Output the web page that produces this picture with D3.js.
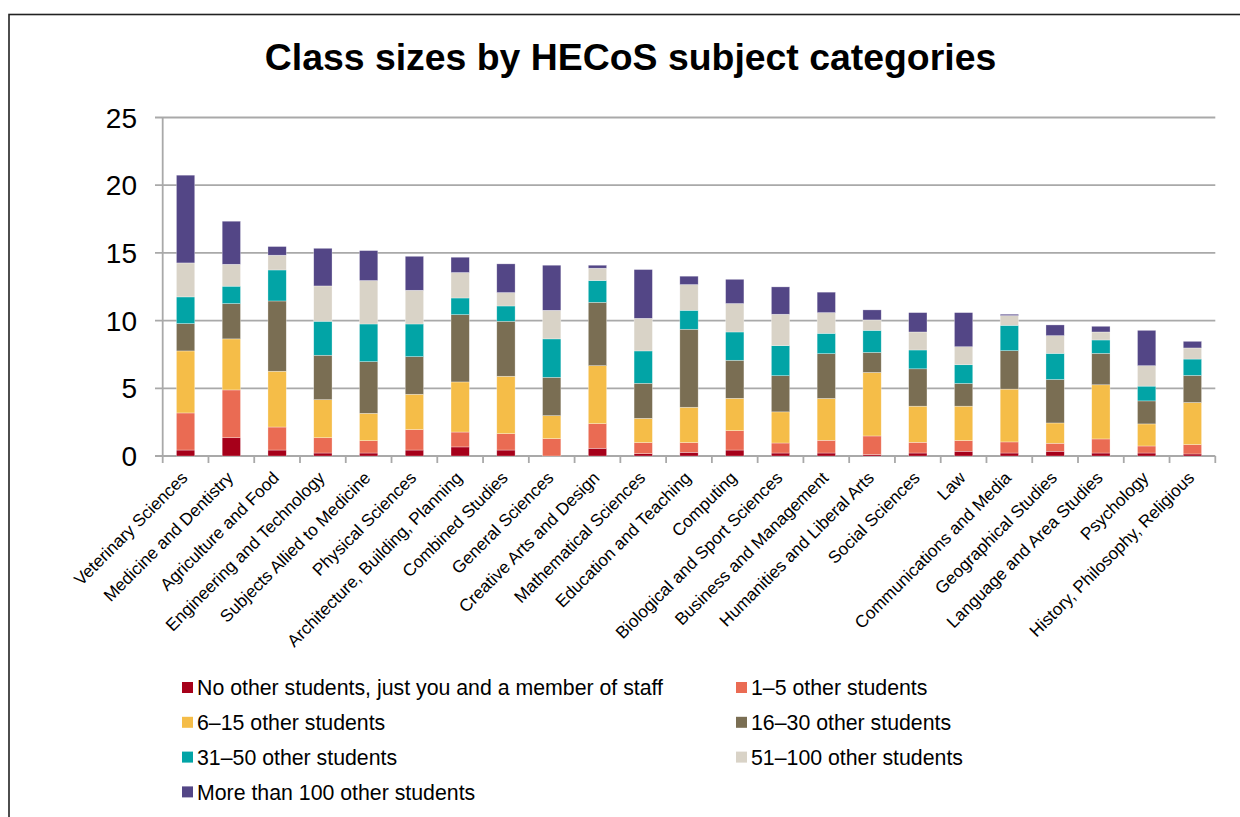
<!DOCTYPE html>
<html>
<head>
<meta charset="utf-8">
<script src="https://cdn.jsdelivr.net/npm/d3@7"></script>
<style>
  body { margin: 0; background: #fff; }
  svg { display: block; font-family: "Liberation Sans", Arial, sans-serif; }
</style>
</head>
<body>
<svg id="chart" width="1240" height="817"></svg>
<script>
// subject categories, in chart order
var categories = [
  "Veterinary Sciences", "Medicine and Dentistry", "Agriculture and Food",
  "Engineering and Technology", "Subjects Allied to Medicine", "Physical Sciences",
  "Architecture, Building, Planning", "Combined Studies", "General Sciences",
  "Creative Arts and Design", "Mathematical Sciences", "Education and Teaching",
  "Computing", "Biological and Sport Sciences", "Business and Management",
  "Humanities and Liberal Arts", "Social Sciences", "Law",
  "Communications and Media", "Geographical Studies", "Language and Area Studies",
  "Psychology", "History, Philosophy, Religious"
];

var seriesNames = [
  "No other students, just you and a member of staff",
  "1–5 other students",
  "6–15 other students",
  "16–30 other students",
  "31–50 other students",
  "51–100 other students",
  "More than 100 other students"
];
var seriesColors = ["#a6001a", "#ea6b53", "#f5bd48", "#7a6e53", "#02a4a6", "#d9d3c7", "#534686"];

// values per series (%), one per category
var noOthers  = [0.44, 1.35, 0.44, 0.22, 0.22, 0.44, 0.67, 0.44, 0.00, 0.57, 0.17, 0.27, 0.44, 0.22, 0.22, 0.10, 0.22, 0.35, 0.22, 0.35, 0.22, 0.22, 0.15];
var oneToFive = [2.74, 3.53, 1.70, 1.13, 0.91, 1.51, 1.10, 1.21, 1.28, 1.82, 0.82, 0.72, 1.43, 0.74, 0.94, 1.38, 0.79, 0.79, 0.82, 0.59, 1.04, 0.52, 0.69];
var sixTo15   = [4.58, 3.77, 4.12, 2.81, 2.02, 2.61, 3.70, 4.24, 1.70, 4.28, 1.79, 2.61, 2.39, 2.30, 3.09, 4.69, 2.67, 2.54, 3.90, 1.50, 4.00, 1.63, 3.11];
var sixteenTo30 = [2.02, 2.61, 5.19, 3.28, 3.82, 2.78, 4.97, 4.06, 2.83, 4.68, 2.59, 5.76, 2.81, 2.67, 3.31, 1.48, 2.76, 1.68, 2.84, 3.21, 2.32, 1.70, 2.00];
var thirty1To50 = [1.97, 1.28, 2.29, 2.51, 2.78, 2.41, 1.23, 1.13, 2.84, 1.61, 2.39, 1.40, 2.09, 2.22, 1.50, 1.63, 1.39, 1.38, 1.87, 1.93, 0.99, 1.09, 1.21];
var fifty1To100 = [2.51, 1.62, 1.09, 2.61, 3.21, 2.49, 1.88, 0.99, 2.11, 0.91, 2.41, 1.90, 2.10, 2.32, 1.53, 0.77, 1.33, 1.33, 0.72, 1.31, 0.59, 1.51, 0.82];
var over100   = [6.48, 3.18, 0.64, 2.78, 2.21, 2.51, 1.13, 2.12, 3.33, 0.22, 3.60, 0.62, 1.79, 2.02, 1.51, 0.74, 1.43, 2.52, 0.10, 0.79, 0.42, 2.61, 0.49];

var yTicks = [0, 5, 10, 15, 20, 25];

var seriesValues = [noOthers, oneToFive, sixTo15, sixteenTo30, thirty1To50, fifty1To100, over100];

// table for d3.stack
var rows = categories.map(function(c, i) {
  var r = { category: c };
  seriesNames.forEach(function(s, j) { r[s] = seriesValues[j][i]; });
  return r;
});

var svg = d3.select("#chart");

// outer frame
svg.append("rect")
  .attr("x", 9).attr("y", 14.5)
  .attr("width", 1260).attr("height", 830)
  .attr("fill", "none")
  .attr("stroke", "#222")
  .attr("stroke-width", 1.6);

svg.append("text")
  .attr("x", 630.5).attr("y", 70)
  .attr("text-anchor", "middle")
  .attr("font-size", "37.4px")
  .attr("font-weight", "bold")
  .text("Class sizes by HECoS subject categories");

var x = d3.scaleBand()
  .domain(categories)
  .range([162.7, 1215.3]);

var y = d3.scaleLinear()
  .domain([0, 25])
  .range([456, 117.5]);

// gridlines + y labels
var grid = svg.append("g");
grid.selectAll("line")
  .data(yTicks)
  .enter().append("line")
  .attr("x1", 155).attr("x2", 1215.3)
  .attr("y1", function(d) { return y(d); })
  .attr("y2", function(d) { return y(d); })
  .attr("stroke", "#a9a9a9")
  .attr("stroke-width", 1.8);

grid.selectAll("text")
  .data(yTicks)
  .enter().append("text")
  .attr("x", 137)
  .attr("y", function(d) { return y(d); })
  .attr("dy", "0.36em")
  .attr("text-anchor", "end")
  .attr("font-size", "28px")
  .attr("fill", "#000")
  .text(function(d) { return d; });

// y axis line
svg.append("line")
  .attr("x1", 162.7).attr("x2", 162.7)
  .attr("y1", y(25)).attr("y2", y(0))
  .attr("stroke", "#a9a9a9")
  .attr("stroke-width", 1.8);

// x tick marks
var xticks = categories.map(function(c) { return x(c); }).concat([x.range()[1]]);
svg.append("g").selectAll("line")
  .data(xticks)
  .enter().append("line")
  .attr("x1", function(d) { return d; })
  .attr("x2", function(d) { return d; })
  .attr("y1", y(0)).attr("y2", y(0) + 7)
  .attr("stroke", "#a9a9a9")
  .attr("stroke-width", 1.8);

var stack = d3.stack().keys(seriesNames);
var layers = stack(rows);

var barW = x.bandwidth() * 0.4;

svg.append("g").selectAll("g")
  .data(layers)
  .enter().append("g")
  .attr("fill", function(d, i) { return seriesColors[i]; })
  .selectAll("rect")
  .data(function(d) { return d; })
  .enter().append("rect")
  .attr("x", function(d) { return x(d.data.category) + (x.bandwidth() - barW) / 2; })
  .attr("y", function(d) { return y(d[1]); })
  .attr("width", barW)
  .attr("height", function(d) { return y(d[0]) - y(d[1]); })
  .attr("stroke", "rgba(255,255,255,0.5)")
  .attr("stroke-width", 0.6);

// category labels
svg.append("g").selectAll("text")
  .data(categories)
  .enter().append("text")
  .attr("transform", function(d) {
    var cx = x(d) + x.bandwidth() / 2 + 3;
    return "translate(" + cx + ",479) rotate(-45)";
  })
  .attr("text-anchor", "end")
  .attr("font-size", "17.2px")
  .attr("fill", "#000")
  .text(function(d) { return d; });

// legend
var legend = svg.append("g");
var legItems = legend.selectAll("g")
  .data(seriesNames)
  .enter().append("g")
  .attr("transform", function(d, i) {
    var col = i % 2, row = Math.floor(i / 2);
    return "translate(" + (col ? 736 : 182) + "," + (687.5 + row * 34.8) + ")";
  });

legItems.append("rect")
  .attr("x", 0).attr("y", -5.5)
  .attr("width", 11).attr("height", 11)
  .attr("fill", function(d, i) { return seriesColors[i]; });

legItems.append("text")
  .attr("x", 15)
  .attr("dy", "0.36em")
  .attr("font-size", "21.3px")
  .attr("fill", "#000")
  .text(function(d) { return d; });
</script>
</body>
</html>
